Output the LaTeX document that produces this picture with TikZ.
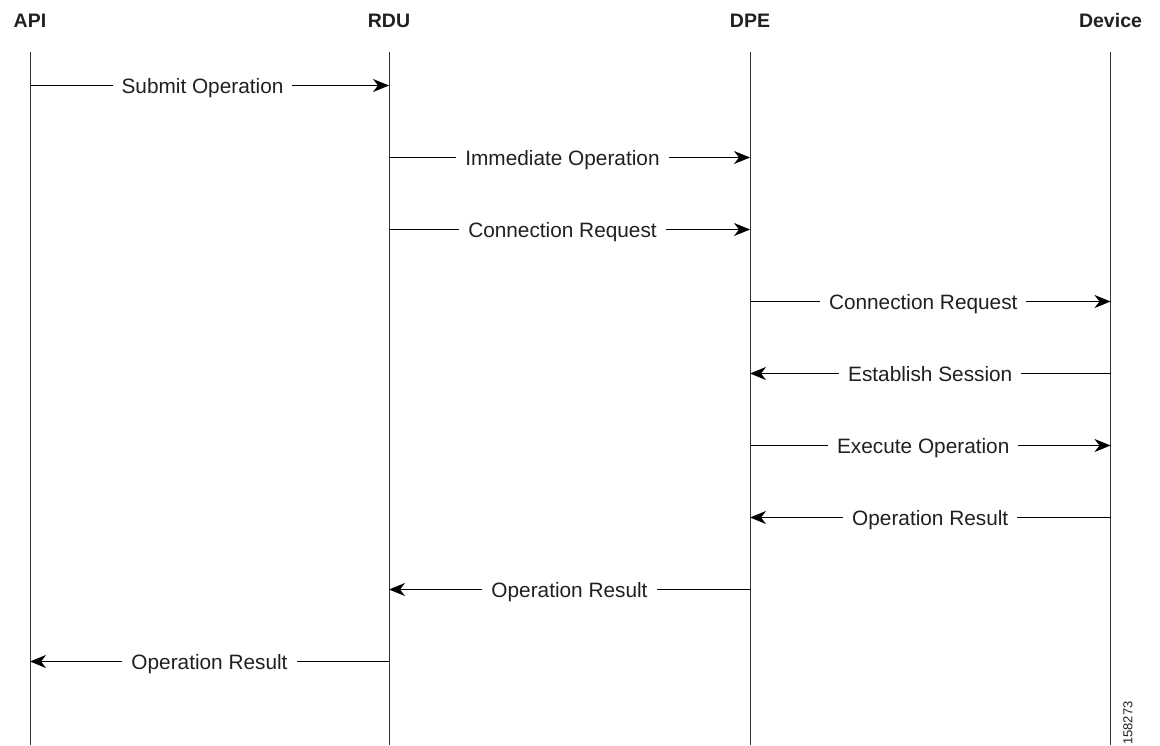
\documentclass[tikz,border=0pt]{standalone}
\usepackage{fontspec}
\setmainfont{Liberation Sans}
\usetikzlibrary{arrows.meta}
\definecolor{ink}{HTML}{231F20}
\begin{document}
\begin{tikzpicture}[x=1pt,y=-1pt,
  lifeline/.style={draw=black!80, line width=0.9pt},
  head/.style={font=\fontsize{19.5}{22}\selectfont\bfseries, text=ink, anchor=base, inner sep=0pt},
  msg/.style={draw=black, line width=1.1pt, -{Stealth[length=16pt,width=13pt,inset=5pt]}},
  lbl/.style={fill=white, font=\fontsize{20.8}{24}\selectfont, text=ink,
              text height=15pt, text depth=0pt, inner xsep=9pt, inner ysep=2pt},
  rlbl/.style={lbl, xshift=-7pt},
  tag/.style={rotate=90, anchor=west, inner sep=0pt, font=\fontsize{13}{15}\selectfont, text=ink}]
\useasboundingbox (0,0) rectangle (1160,745);

% participants
\node[head] (api)  at (30,27)   {API};
\node[head] (rdu)  at (389,27)  {RDU};
\node[head] (dpe)  at (750,27)  {DPE};
\node[head] (dev)  at (1110.5,27) {Device};

% lifelines
\foreach \n/\x in {api/30, rdu/389, dpe/750, dev/1110.5}{
  \coordinate (\n Top) at (\x,52);
  \coordinate (\n Bot) at (\x,745);
  \draw[lifeline] (\n Top) -- (\n Bot);
}

% message rows
\foreach \i in {1,...,9}{
  \coordinate (r\i) at (0,{13.5+72*\i});
}

% messages
\draw[msg] (apiTop |- r1) -- node[rlbl] {Submit Operation}     (rduTop |- r1);
\draw[msg] (rduTop |- r2) -- node[rlbl] {Immediate Operation}  (dpeTop |- r2);
\draw[msg] (rduTop |- r3) -- node[rlbl] {Connection Request}   (dpeTop |- r3);
\draw[msg] (dpeTop |- r4) -- node[rlbl] {Connection Request}   (devTop |- r4);
\draw[msg] (devTop |- r5) -- node[lbl]  {Establish Session}    (dpeTop |- r5);
\draw[msg] (dpeTop |- r6) -- node[rlbl] {Execute Operation}    (devTop |- r6);
\draw[msg] (devTop |- r7) -- node[lbl]  {Operation Result}     (dpeTop |- r7);
\draw[msg] (dpeTop |- r8) -- node[lbl]  {Operation Result}     (rduTop |- r8);
\draw[msg] (rduTop |- r9) -- node[lbl]  {Operation Result}     (apiTop |- r9);

% figure number
\node[tag] (fignum) at (1128,745) {158273};
\end{tikzpicture}
\end{document}
